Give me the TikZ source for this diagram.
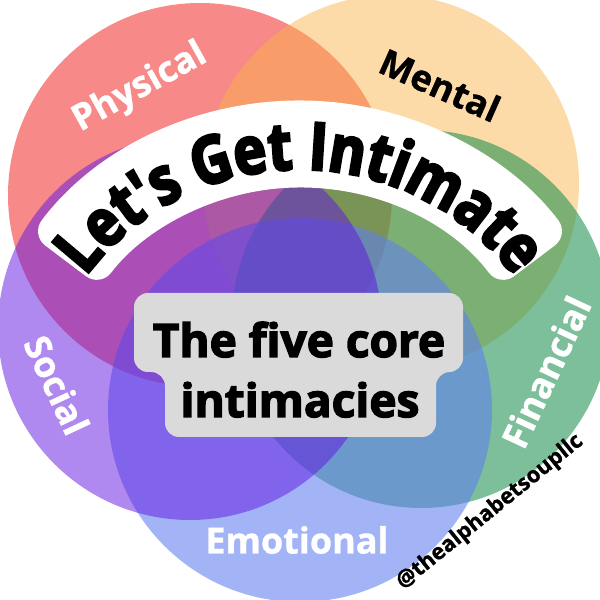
\documentclass[tikz,border=0pt]{standalone}
\usepackage{fontspec}
\setmainfont{Open Sans}[BoldFeatures={FakeBold=1}]
\newfontfamily\banfont{Open Sans}[Ligatures=TeXOff, BoldFeatures={FakeBold=4, FakeStretch=0.84}]
\newfontfamily\boxfont{Open Sans}[BoldFeatures={FakeBold=3}]
\usetikzlibrary{decorations.text,calc}
\definecolor{cred}{RGB}{241,21,21}
\definecolor{corange}{RGB}{251,180,74}
\definecolor{cgreen}{RGB}{19,140,73}
\definecolor{cblue}{RGB}{96,127,241}
\definecolor{cpurple}{RGB}{97,21,225}
\definecolor{boxgray}{RGB}{218,218,218}
\begin{document}
\begin{tikzpicture}[x=1pt,y=1pt,
  lbl/.style={font=\bfseries\fontsize{36}{36}\selectfont, text=white, inner sep=0pt},
  boxtxt/.style={font=\boxfont\bfseries\fontsize{46}{46}\selectfont, text=black, inner sep=0pt, anchor=base},
]
\useasboundingbox (0,0) rectangle (600,600);
\fill[white] (0,0) rectangle (600,600);
\begin{scope}
  \clip (0,0) rectangle (600,600);
  \fill[cred, fill opacity=0.5] (200,405) circle[radius=192];
  \fill[corange, fill opacity=0.48] (391,417) circle[radius=188];
  \fill[cgreen, fill opacity=0.55] (421,281) circle[radius=189];
  \fill[cblue, fill opacity=0.58] (300,190) circle[radius=192];
  \fill[cpurple, fill opacity=0.5] (190,272) circle[radius=192];
\end{scope}
% banner
\coordinate (bc) at (300,162.5);
\fill[white, rounded corners=18pt] ($(bc)+(143:337)$) arc[start angle=143, end angle=37, radius=337]
  -- ($(bc)+(37:250)$) arc[start angle=37, end angle=143, radius=250] -- cycle;
\path[decorate, decoration={text along path, text align=center,
   text={|\banfont\bfseries\fontsize{66}{66}\selectfont|Let's Get Intimate}}]
   ($(bc)+(150:268)$) arc[start angle=150, end angle=30, radius=268];
% grey box
\fill[boxgray, rounded corners=14pt] (134,307) -- (463,307) -- (463,228) -- (436,228) -- (436,163)
  -- (165,163) -- (165,228) -- (134,228) -- cycle;
\node[boxtxt] (line1) at (299,243) {The five core};
\node[boxtxt] (line2) at (300,183) {intimacies};
% labels
\node[lbl, rotate=29] (physical) at (140,512) {Physical};
\node[lbl, rotate=-24, text=black] (mental) at (440,515) {Mental};
\node[lbl, rotate=-65] (social) at (57,215) {Social};
\node[lbl, rotate=65] (financial) at (546,228) {Financial};
\node[lbl] (emotional) at (297,60) {Emotional};
\node[font=\bfseries\fontsize{22}{22}\selectfont, rotate=39, inner sep=0pt] (wm) at (490,88) {@thealphabetsoupllc};
\end{tikzpicture}
\end{document}
